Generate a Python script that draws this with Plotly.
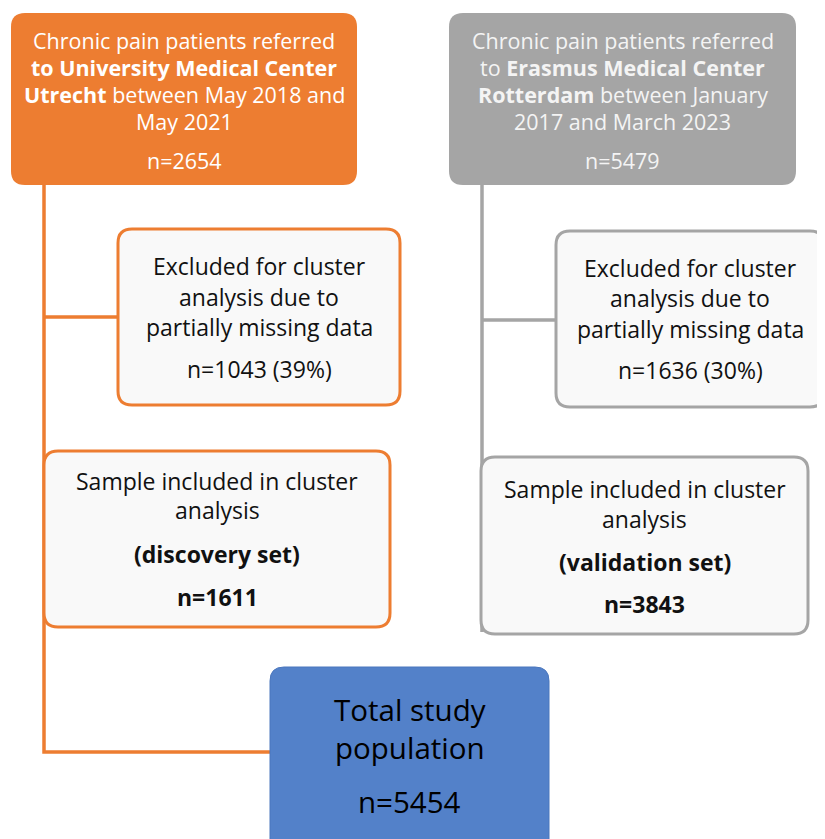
import plotly.graph_objects as go

# ---- data (text content) ----
box_names = ["umcu", "emc", "excl_l", "excl_r", "samp_l", "samp_r", "total"]
box_lines = {
    "umcu": ["Chronic pain patients referred", "<b>to University Medical Center</b>",
             "<b>Utrecht</b> between May 2018 and", "May 2021"],
    "emc": ["Chronic pain patients referred", "to <b>Erasmus Medical Center</b>",
            "<b>Rotterdam</b> between January", "2017 and March 2023"],
    "excl_l": ["Excluded for cluster", "analysis due to", "partially missing data"],
    "excl_r": ["Excluded for cluster", "analysis due to", "partially missing data"],
    "samp_l": ["Sample included in cluster", "analysis", "<b>(discovery set)</b>"],
    "samp_r": ["Sample included in cluster", "analysis", "<b>(validation set)</b>"],
    "total": ["Total study", "population"],
}
box_counts = {
    "umcu": "n=2654", "emc": "n=5479", "excl_l": "n=1043 (39%)",
    "excl_r": "n=1636 (30%)", "samp_l": "<b>n=1611</b>", "samp_r": "<b>n=3843</b>",
    "total": "n=5454",
}

# ---- layout / style ----
W, H = 825, 839
OFF = 8  # page body margin
ORANGE = "#ED7D31"
GREY = "#A5A5A5"
BLUE = "#5381C9"
LIGHT = "#F9F9F9"

geom = {  # x0, y0, x1, y1 (pixels, y down)
    "umcu": (11, 13, 357, 185),
    "emc": (449, 13, 796, 185),
    "excl_l": (118, 229, 400, 405),
    "excl_r": (556, 231, 824, 407),
    "samp_l": (44, 451, 390, 627),
    "samp_r": (481, 457, 808, 634),
    "total": (270, 667, 549, 860),
}
style = {
    "umcu": dict(fill=ORANGE, line=ORANGE, lw=0, color="white"),
    "emc": dict(fill=GREY, line=GREY, lw=0, color="#F4F4F4"),
    "excl_l": dict(fill=LIGHT, line=ORANGE, lw=3, color="#111111"),
    "excl_r": dict(fill=LIGHT, line=GREY, lw=3, color="#111111"),
    "samp_l": dict(fill=LIGHT, line=ORANGE, lw=3, color="#111111"),
    "samp_r": dict(fill=LIGHT, line=GREY, lw=3, color="#111111"),
    "total": dict(fill=BLUE, line="#4A76BD", lw=1, color="#000000"),
}
text_pos = {  # line y centres, count y centre, font size
    "umcu": ([40, 67, 94, 121], 160, 21.5),
    "emc": ([40, 67, 94, 121], 160, 21.5),
    "excl_l": ([266, 297, 327], 369, 23),
    "excl_r": ([268, 298, 329], 370, 23),
    "samp_l": ([481, 510, 554], 597, 23),
    "samp_r": ([489, 519, 562], 604, 23),
    "total": ([709, 747], 801, 29.5),
}
connectors = [  # polylines: (color, points)
    (ORANGE, [(44, 185), (44, 752), (270, 752)]),
    (ORANGE, [(44, 317), (118, 317)]),
    (GREY, [(482, 185), (482, 632)]),
    (GREY, [(482, 320), (556, 320)]),
]

def rrect(x0, y0, x1, y1, r=14):
    return (f"M{x0+r},{y0} L{x1-r},{y0} Q{x1},{y0} {x1},{y0+r} "
            f"L{x1},{y1-r} Q{x1},{y1} {x1-r},{y1} L{x0+r},{y1} "
            f"Q{x0},{y1} {x0},{y1-r} L{x0},{y0+r} Q{x0},{y0} {x0+r},{y0} Z")

fig = go.Figure()
shapes, annotations = [], []

for color, pts in connectors:
    path = "M" + " L".join(f"{x},{y}" for x, y in pts)
    shapes.append(dict(type="path", path=path, xref="x", yref="y",
                       line=dict(color=color, width=3.5), layer="below"))

for name in box_names:
    x0, y0, x1, y1 = geom[name]
    st = style[name]
    shapes.append(dict(type="path", path=rrect(x0, y0, x1, y1), xref="x", yref="y",
                       fillcolor=st["fill"],
                       line=dict(color=st["line"], width=st["lw"]), layer="above"))
    ys, yc, fs = text_pos[name]
    xc = (x0 + x1) / 2
    for txt, yy in zip(box_lines[name] + [box_counts[name]], ys + [yc]):
        annotations.append(dict(x=xc, y=yy, xref="x", yref="y", text=txt,
                                showarrow=False, xanchor="center", yanchor="middle",
                                font=dict(family="Open Sans", size=fs, color=st["color"])))

fig.update_layout(
    width=W - OFF, height=H - OFF, margin=dict(l=0, r=0, t=0, b=0),
    paper_bgcolor="white", plot_bgcolor="white",
    xaxis=dict(range=[OFF, W], visible=False, fixedrange=True),
    yaxis=dict(range=[H, OFF], visible=False, fixedrange=True),
    shapes=shapes, annotations=annotations, showlegend=False,
)
fig.write_html("out.html")
